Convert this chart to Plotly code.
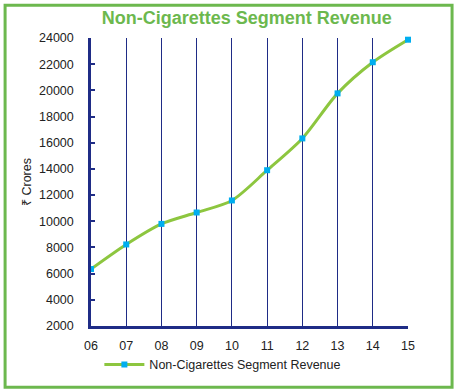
import plotly.graph_objects as go

years = ["06", "07", "08", "09", "10", "11", "12", "13", "14", "15"]
revenue = [6350, 8230, 9800, 10670, 11590, 13900, 16330, 19770, 22150, 23870]
y_ticks = [2000, 4000, 6000, 8000, 10000, 12000, 14000, 16000, 18000, 20000, 22000, 24000]
y_tick_labels = [str(v) for v in y_ticks]

x_pos = list(range(len(years)))

fig = go.Figure()
fig.add_trace(go.Scatter(
    x=x_pos, y=revenue, mode="lines+markers",
    name="Non-Cigarettes Segment Revenue",
    line=dict(color="#8dc63f", width=3, shape="spline", smoothing=0.8),
    marker=dict(symbol="square", size=6, color="#00aeef"),
    cliponaxis=False,
))

navy = "#1f2c86"
fig.update_layout(
    width=457, height=392,
    margin=dict(l=91, r=49, t=38, b=66),
    paper_bgcolor="white", plot_bgcolor="white",
    font=dict(family="Arial, Liberation Sans, sans-serif", size=12.5, color="#222222"),
    title=dict(text="<b>Non-Cigarettes Segment Revenue</b>",
               font=dict(size=18, color="#6cb84e"),
               x=0.54, xanchor="center", y=0.955, yanchor="middle"),
    xaxis=dict(range=[0, len(years) - 1], tickvals=x_pos, ticktext=years,
               showgrid=True, gridcolor=navy, gridwidth=1.4,
               showline=True, linecolor=navy, linewidth=2.5,
               zeroline=False, ticks="", ticklabelstandoff=6,
               tickfont=dict(size=12.5),
               fixedrange=True),
    yaxis=dict(range=[2000, 24000], tickvals=y_ticks, ticktext=y_tick_labels,
               showgrid=False, showline=True, linecolor=navy, linewidth=2.5,
               zeroline=False, ticks="inside", ticklen=4, tickwidth=2, tickcolor=navy,
               ticklabelstandoff=12, tickfont=dict(size=12.5),
               title=dict(text="₹ Crores", font=dict(size=12.5), standoff=5)),
    showlegend=True,
    legend=dict(orientation="h", x=0.416, xanchor="center", y=-0.135, yanchor="middle",
                font=dict(size=12.5), itemwidth=40),
    shapes=[dict(type="rect", xref="paper", yref="paper",
                 x0=-0.271, x1=1.139, y0=-0.213, y1=1.114,
                 line=dict(color="#6cb84e", width=3), fillcolor="rgba(0,0,0,0)")],
)

fig.write_html("out.html", config={"displayModeBar": False},
               post_script="document.body.style.margin='0';")
